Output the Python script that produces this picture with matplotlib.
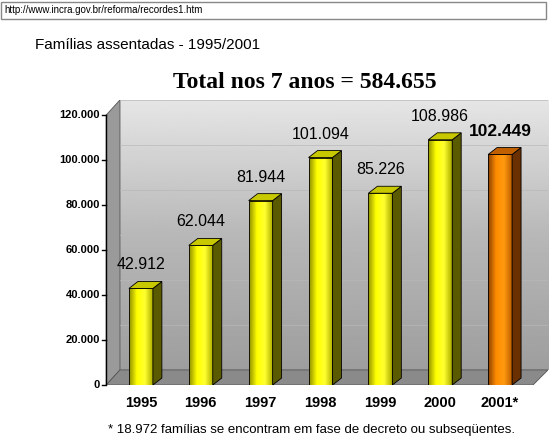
import matplotlib
matplotlib.use("Agg")
import matplotlib.pyplot as plt
import numpy as np
from matplotlib.patches import Polygon, Rectangle
from matplotlib.colors import LinearSegmentedColormap

years = ["1995", "1996", "1997", "1998", "1999", "2000", "2001*"]
values = [42912, 62044, 81944, 101094, 85226, 108986, 102449]
labels = ["42.912", "62.044", "81.944", "101.094", "85.226", "108.986", "102.449"]
yticks = [0, 20000, 40000, 60000, 80000, 100000, 120000]
ytick_labels = ["0", "20.000", "40.000", "60.000", "80.000", "100.000", "120.000"]

W, H = 550, 444
fig = plt.figure(figsize=(5.5, 4.44), dpi=100)
fig.patch.set_facecolor("white")

fig.patches.append(Rectangle((1/W, 1-19/H), 545/W, 17/H, transform=fig.transFigure,
                             fill=False, edgecolor="#888888", lw=1))
fig.text(4/W, 1-10/H, "http://www.incra.gov.br/reforma/recordes1.htm", fontsize=7,
         va="center", family="Liberation Sans")
fig.text(35/W, 1-45/H, "Famílias assentadas - 1995/2001", fontsize=11,
         va="center", family="Liberation Sans")
fig.text(305/W, 1-82/H, "Total nos 7 anos = 584.655", fontsize=17, weight="bold",
         va="center", ha="center", family="Liberation Serif")

ax = fig.add_axes([105/W, (H-385)/H, 443/W, 285/H])
x0, x1 = -0.6, 6.8
ymax = (385-100)/2.25*1000
ax.set_xlim(x0, x1)
ax.set_ylim(0, ymax)
ax.set_facecolor("none")
for s in ax.spines.values():
    s.set_visible(False)

ddx, ddy = 0.25, 6700
grad = np.concatenate([np.linspace(0.62, 0.72, 128), np.linspace(0.72, 0.9, 128)]).reshape(-1, 1)
ax.imshow(grad, extent=[x0+ddx, x1, ddy, 120000+ddy], aspect="auto", cmap="gray",
          vmin=0, vmax=1, origin="lower", zorder=0)
ax.add_patch(Polygon([[x0+0.02, 0], [x0+ddx, ddy], [x0+ddx, 120000+ddy], [x0+0.02, 120000]],
                     closed=True, facecolor="#9a9a9a", edgecolor="#555555", lw=0.6, zorder=0.5))
ax.add_patch(Polygon([[x0+0.02, 0], [x1-ddx, 0], [x1, ddy], [x0+ddx, ddy]],
                     closed=True, facecolor="#8a8a8a", edgecolor="#555555", lw=0.6, zorder=0.5))
for t in yticks[1:]:
    ax.plot([x0+ddx, x1], [t+ddy, t+ddy], color="#b8b8b8", lw=0.5, zorder=0.6)
ax.plot([x0+0.02, x0+0.02], [0, 120000], color="black", lw=1, zorder=1)
for t, l in zip(yticks, ytick_labels):
    ax.plot([x0-0.05, x0+0.02], [t, t], color="black", lw=1, clip_on=False)
    ax.text(x0-0.08, t, l, ha="right", va="center", fontsize=8, weight="bold",
            family="Liberation Sans", clip_on=False)

bw = 0.4
bdx, bdy = 0.15, 3100
for i, (v, lab, yr) in enumerate(zip(values, labels, years)):
    orange = yr.startswith("2001")
    if orange:
        cmap_cols = ["#8a4000", "#ff8c00", "#ff9a10", "#c06000"]
        side, top = "#6a3000", "#c06000"
    else:
        cmap_cols = ["#909000", "#ffff00", "#ffff30", "#b0b000"]
        side, top = "#5a5a00", "#c8c800"
    cm = LinearSegmentedColormap.from_list("b", cmap_cols)
    g = np.linspace(0, 1, 64).reshape(1, -1)
    ax.imshow(g, extent=[i-bw/2, i+bw/2, 0, v], aspect="auto", cmap=cm, zorder=2)
    ax.add_patch(Rectangle((i-bw/2, 0), bw, v, fill=False, edgecolor="black", lw=0.6, zorder=3))
    ax.add_patch(Polygon([[i+bw/2, 0], [i+bw/2+bdx, bdy], [i+bw/2+bdx, v+bdy], [i+bw/2, v]],
                         closed=True, facecolor=side, edgecolor="black", lw=0.6, zorder=3))
    ax.add_patch(Polygon([[i-bw/2, v], [i+bw/2, v], [i+bw/2+bdx, v+bdy], [i-bw/2+bdx, v+bdy]],
                         closed=True, facecolor=top, edgecolor="black", lw=0.6, zorder=3))
    ax.text(i, v+bdy+4000, lab, ha="center", va="bottom",
            fontsize=12.5 if orange else 11.5, weight="bold" if orange else "normal",
            family="Liberation Sans", zorder=4)
    ax.text(i, -5000, yr, ha="center", va="top", fontsize=10.5, weight="bold",
            family="Liberation Sans", clip_on=False)

ax.set_xticks([]); ax.set_yticks([])
fig.text(312/W, 1-430/H, "* 18.972 famílias se encontram em fase de decreto ou subseqüentes.",
         fontsize=9.5, ha="center", va="center", family="Liberation Sans")
fig.savefig("out.png", dpi=100)
